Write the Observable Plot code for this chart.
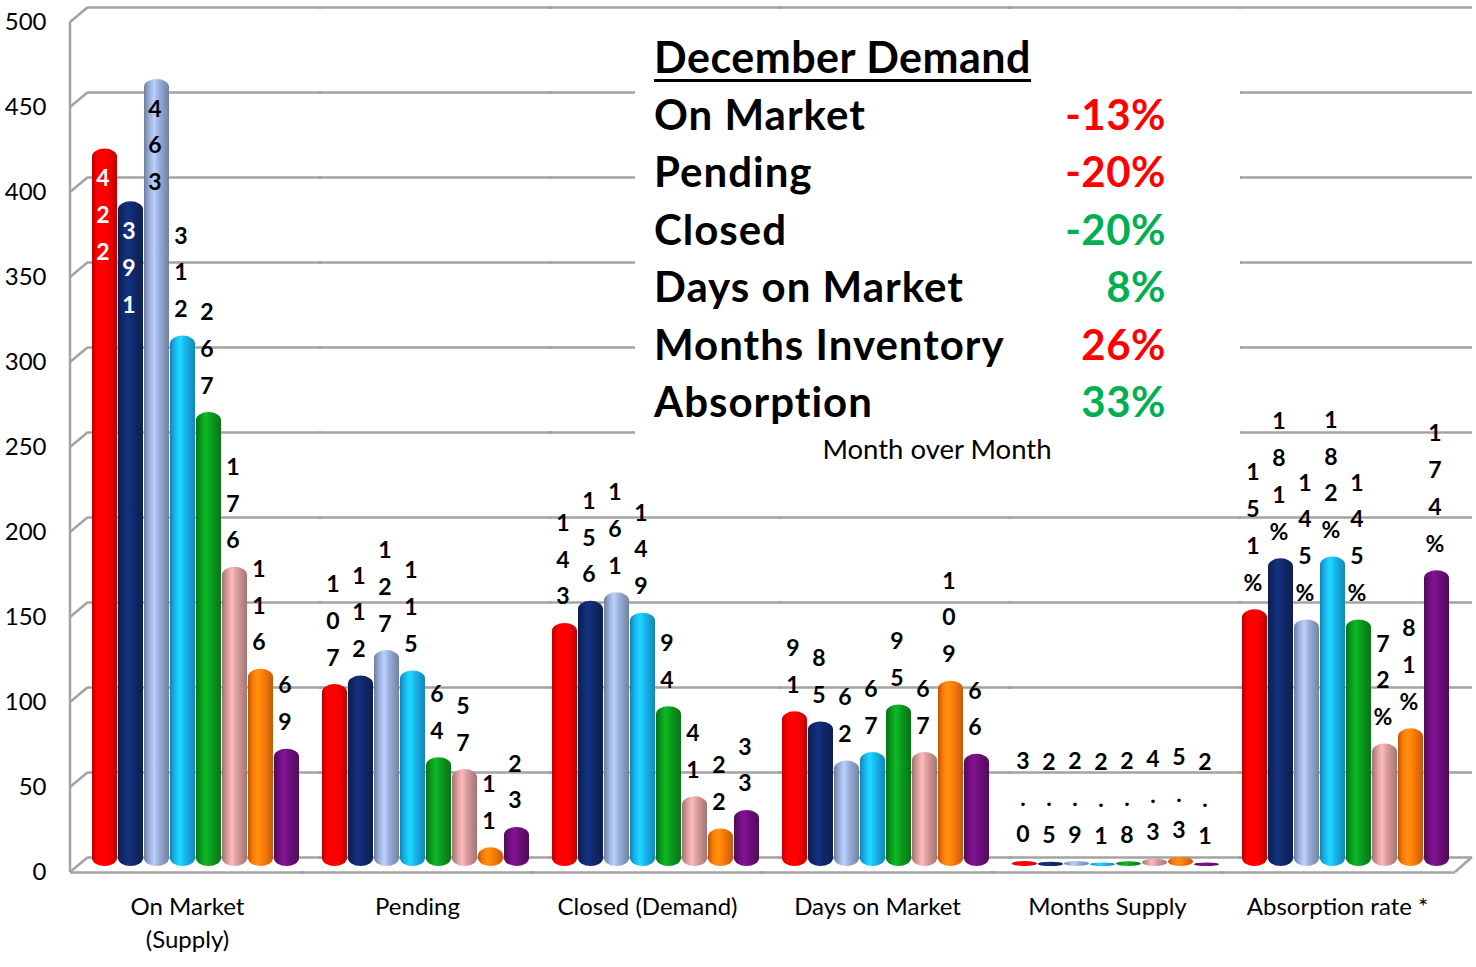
<!DOCTYPE html>
<html><head><meta charset="utf-8">
<script src="https://cdn.jsdelivr.net/npm/d3@7"></script>
<script src="https://cdn.jsdelivr.net/npm/@observablehq/plot@0.6"></script>
<style>
body{margin:0;background:#fff;font-family:Lato,"Open Sans",sans-serif;}
#wrap{position:relative;width:1476px;height:967px;overflow:hidden;background:#fff}
#box{position:absolute;left:635px;top:26px;width:605px;height:454px;background:#fff;}
#box .row{position:absolute;left:19px;right:74px;height:57.5px;line-height:57.5px;font-weight:700;font-size:42px;letter-spacing:1px;color:#000;display:flex;justify-content:space-between;white-space:nowrap}
#box .row span:last-child{letter-spacing:0.5px}
#box .title{text-decoration:underline;text-decoration-thickness:3px;text-underline-offset:6px}
#box .sub{position:absolute;left:0;width:604px;text-align:center;font-size:27.5px;font-weight:400;line-height:30px;top:408px;padding-left:0}
</style></head><body>
<div id="wrap"><div id="chart"></div><div id="box"></div></div>
<script>
// ---- data ----
const groups = ["On Market\n(Supply)", "Pending", "Closed (Demand)", "Days on Market", "Months Supply", "Absorption rate *"];
const series = ["Series 1", "Series 2", "Series 3", "Series 4", "Series 5", "Series 6", "Series 7", "Series 8"];
const seriesColors = ["#ff0000", "#10296a", "#98acd6", "#19b4ef", "#0a9a1e", "#d89a9a", "#ff7a0a", "#6d0f7a"];
const onMarket = [422, 391, 463, 312, 267, 176, 116, 69];
const pending = [107, 112, 127, 115, 64, 57, 11, 23];
const closed = [143, 156, 161, 149, 94, 41, 22, 33];
const daysOnMarket = [91, 85, 62, 67, 95, 67, 109, 66];
const monthsSupply = [3.0, 2.5, 2.9, 2.1, 2.8, 4.3, 5.3, 2.1];
const absorptionRate = [151, 181, 145, 182, 145, 72, 81, 174]; // percent
const yTicks = [0, 50, 100, 150, 200, 250, 300, 350, 400, 450, 500];

const summaryTitle = "December Demand";
const summaryLabels = ["On Market", "Pending", "Closed", "Days on Market", "Months Inventory", "Absorption"];
const summaryChanges = ["-13%", "-20%", "-20%", "8%", "26%", "33%"];
const summaryTone = ["bad", "bad", "good", "good", "bad", "good"];
const summaryNote = "Month over Month";

// ---- table ----
const groupValues = [onMarket, pending, closed, daysOnMarket, monthsSupply, absorptionRate];
const fmt = [String, String, String, String, v => v.toFixed(1), v => v + "%"];
const rows = groups.flatMap((g, gi) => groupValues[gi].map((v, si) => ({
  group: g, series: series[si], value: v, label: fmt[gi](v), color: seriesColors[si]
})));
const isInside = d => d.value > 350;
const outside = rows.filter(d => !isInside(d));
const inside = rows.filter(isInside);
const insideLight = inside.filter(d => d3.lab(d.color).l > 60);
const insideDark = inside.filter(d => d3.lab(d.color).l <= 60);
const vertical = d => d.label.split("").join("\n");

const labelOpts = {fx: "group", x: "series", y: "value", text: vertical, fontSize: 23, fontWeight: "bold", lineHeight: 1.6, dx: -2};
const grid = "#a3a3a3";

const plot = Plot.plot({
  width: 1476, height: 967,
  marginLeft: 90, marginRight: 26, marginTop: 22, marginBottom: 95,
  style: {fontFamily: "Lato, 'Open Sans', sans-serif", background: "transparent", overflow: "visible", color: "#000"},
  fx: {domain: groups, paddingInner: 20 / 230, paddingOuter: 0, label: null},
  x: {domain: series, padding: 0.04, axis: null},
  y: {domain: [0, 500], label: null},
  color: {domain: series, range: seriesColors},
  marks: [
    Plot.ruleY(yTicks, {dy: -15, stroke: grid, strokeWidth: 2.5, insetLeft: -2, insetRight: -22}),
    Plot.ruleY([0], {stroke: grid, strokeWidth: 2.5, insetLeft: -20, insetRight: -5}),
    Plot.axisY({ticks: yTicks, tickSize: 0, tickPadding: 44, fontSize: 24, label: null}),
    Plot.axisFx({anchor: "bottom", tickSize: 0, tickPadding: 19, fontSize: 24, label: null, lineHeight: 1.375, dx: -8}),
    Plot.barY(rows, {fx: "group", x: "series", y: "value", fill: "series", dy: -6, rx: 13, ry: 8}),
    Plot.text(outside, {...labelOpts, lineAnchor: "bottom", dy: -25, fill: "black"}),
    Plot.text(insideLight, {...labelOpts, lineAnchor: "top", dy: 5, fill: "black"}),
    Plot.text(insideDark, {...labelOpts, lineAnchor: "top", dy: 5, fill: "white"})
  ]
});
document.getElementById("chart").appendChild(plot);

// ---- 3D wall decorations & cylinder shading ----
const svg = d3.select(plot.tagName === "svg" ? plot : plot.querySelector("svg"));
const ys = plot.scale("y");
const fxs = plot.scale("fx");
const x0 = fxs.apply(groups[0]) - 20;
const xEnd = fxs.apply(groups[groups.length - 1]) + fxs.bandwidth;
const deco = svg.insert("g", ":first-child").attr("stroke", grid).attr("stroke-width", 2.5).attr("fill", "none");
deco.append("line").attr("x1", x0).attr("x2", x0).attr("y1", ys.apply(500)).attr("y2", ys.apply(0));
for (const t of yTicks) {
  deco.append("line").attr("x1", x0).attr("y1", ys.apply(t)).attr("x2", x0 + 18).attr("y2", ys.apply(t) - 15);
}
deco.append("line").attr("x1", xEnd + 5).attr("y1", ys.apply(0)).attr("x2", xEnd + 22).attr("y2", ys.apply(0) - 15);

const defs = svg.append("defs");
const gid = new Map();
seriesColors.forEach((c, i) => {
  const id = "cyl" + i;
  gid.set(d3.color(c).formatHex(), id);
  const g = defs.append("linearGradient").attr("id", id).attr("x1", 0).attr("x2", 1).attr("y1", 0).attr("y2", 0);
  const stops = [[0, d3.color(c).darker(0.9)], [0.2, d3.color(c)], [0.4, d3.color(c).brighter(0.55)], [0.62, d3.color(c)], [1, d3.color(c).darker(0.8)]];
  for (const [o, col] of stops) g.append("stop").attr("offset", o).attr("stop-color", col.formatHex());
});
svg.selectAll('g[aria-label="bar"] rect').each(function () {
  const f = this.getAttribute("fill") || (this.parentNode && this.parentNode.getAttribute("fill"));
  if (!f) return;
  const id = gid.get(d3.color(f).formatHex());
  if (id) this.setAttribute("fill", `url(#${id})`);
});

// ---- summary box ----
const box = d3.select("#box");
box.append("div").attr("class", "row").style("top", "2px").style("font-size", "43px")
  .append("span").attr("class", "title").text(summaryTitle);
summaryLabels.forEach((lab, i) => {
  const r = box.append("div").attr("class", "row").style("top", `${2 + 57.5 * (i + 1)}px`);
  r.append("span").text(lab);
  r.append("span").style("color", summaryTone[i] === "good" ? "#00b050" : "#ff0000").text(summaryChanges[i]);
});
box.append("div").attr("class", "sub").text(summaryNote);
</script>
</body></html>
